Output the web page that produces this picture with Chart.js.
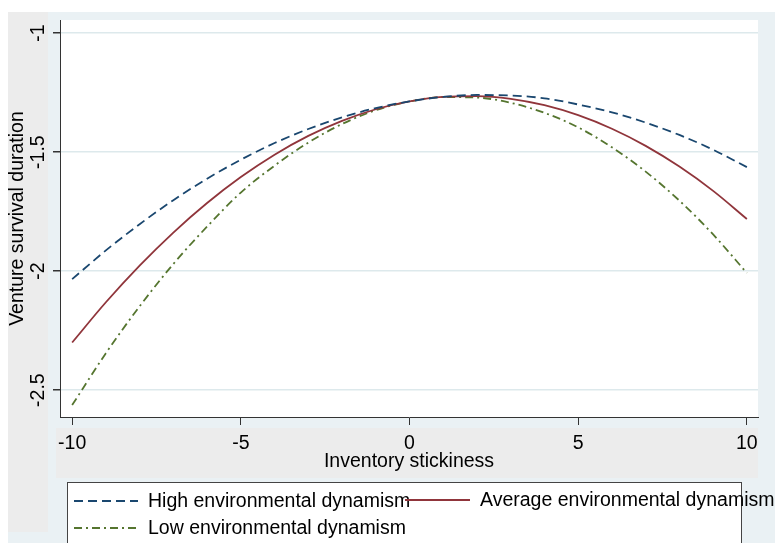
<!DOCTYPE html>
<html>
<head>
<meta charset="utf-8">
<script src="https://cdn.jsdelivr.net/npm/chart.js@4/dist/chart.umd.min.js"></script>
<style>
  body { margin: 0; background: #fff; }
  #box { width: 775px; height: 543px; }
</style>
</head>
<body>
<div id="box"><canvas id="grafico"></canvas></div>
<script>
var estoque = [-10, -9, -8, -7, -6, -5, -4, -3, -2, -1, 0, 1, 2, 3, 4, 5, 6, 7, 8, 9, 10];
var altaDinamica = [-2.034, -1.913, -1.803, -1.702, -1.612, -1.532, -1.462, -1.403, -1.354, -1.315, -1.287,
                    -1.268, -1.260, -1.262, -1.274, -1.300, -1.333, -1.376, -1.428, -1.490, -1.563];
var mediaDinamica = [-2.300, -2.131, -1.977, -1.838, -1.714, -1.605, -1.511, -1.432, -1.369, -1.320, -1.287,
                     -1.268, -1.265, -1.276, -1.303, -1.345, -1.402, -1.474, -1.561, -1.663, -1.781];
var baixaDinamica = [-2.563, -2.345, -2.148, -1.970, -1.813, -1.670, -1.557, -1.460, -1.382, -1.324, -1.287,
                     -1.269, -1.271, -1.293, -1.335, -1.396, -1.480, -1.582, -1.704, -1.846, -2.008];
var nomesSeries = ['High environmental dynamism', 'Average environmental dynamism', 'Low environmental dynamism'];
var ticksX = [-10, -5, 0, 5, 10];
var ticksY = [-1, -1.5, -2, -2.5];

var fonte = '"Liberation Sans", Arial, sans-serif';

function pares(ys) {
    return estoque.map(function (x, i) { return { x: x, y: ys[i] }; });
}

// fundos do grafico (regioes do Stata)
var fundo = {
    id: 'fundo',
    beforeDraw: function (chart) {
        var ctx = chart.ctx;
        var a = chart.chartArea;
        ctx.save();
        ctx.fillStyle = '#eaf1f4';
        ctx.fillRect(0, 0, chart.width, chart.height);
        ctx.fillStyle = '#ffffff';
        ctx.fillRect(0, 0, chart.width, 12);
        ctx.fillRect(0, 0, 8, chart.height);
        ctx.fillStyle = '#ececec';
        ctx.fillRect(8, 12, 40, 520);
        ctx.fillRect(56, 428, a.right - 56, 50);
        ctx.fillStyle = '#ffffff';
        ctx.fillRect(a.left, a.top, a.right - a.left, a.bottom - a.top);
        ctx.restore();
    },
    afterDraw: function (chart) {
        var ctx = chart.ctx;
        var sy = chart.scales.y;
        ctx.save();
        // rotulos do eixo y girados
        ctx.fillStyle = '#000';
        ctx.font = '19.5px ' + fonte;
        ctx.textAlign = 'center';
        ctx.textBaseline = 'middle';
        ticksY.forEach(function (v) {
            ctx.save();
            ctx.translate(39, sy.getPixelForValue(v));
            ctx.rotate(-Math.PI / 2);
            ctx.fillText(String(v), 0, 0);
            ctx.restore();
        });
        // legenda
        ctx.fillStyle = '#fff';
        ctx.fillRect(67, 482, 674, 70);
        ctx.strokeStyle = '#444';
        ctx.lineWidth = 1;
        ctx.strokeRect(67.5, 482.5, 674, 70);
        var pos = [[74, 138, 148, 501], [405, 470, 480, 500], [74, 138, 148, 528]];
        chart.data.datasets.forEach(function (ds, i) {
            var p = pos[i];
            ctx.strokeStyle = ds.borderColor;
            ctx.lineWidth = ds.borderWidth;
            ctx.setLineDash(ds.borderDash || []);
            ctx.beginPath();
            ctx.moveTo(p[0], p[3]);
            ctx.lineTo(p[1], p[3]);
            ctx.stroke();
            ctx.setLineDash([]);
            ctx.fillStyle = '#000';
            ctx.textAlign = 'left';
            ctx.fillText(ds.label, p[2], p[3] + 1);
        });
        ctx.restore();
    }
};

var ctx = document.getElementById('grafico').getContext('2d');
var grafico = new Chart(ctx, {
    type: 'line',
    data: {
        datasets: [{
            label: nomesSeries[0],
            data: pares(altaDinamica),
            borderColor: '#1a476f',
            borderWidth: 1.8,
            borderDash: [9, 5]
        }, {
            label: nomesSeries[1],
            data: pares(mediaDinamica),
            borderColor: '#90353b',
            borderWidth: 1.8
        }, {
            label: nomesSeries[2],
            data: pares(baixaDinamica),
            borderColor: '#55752f',
            borderWidth: 1.8,
            borderDash: [8, 4, 2, 4]
        }]
    },
    options: {
        responsive: true,
        maintainAspectRatio: false,
        animation: false,
        events: [],
        elements: { point: { radius: 0 }, line: { tension: 0.4, cubicInterpolationMode: 'monotone' } },
        layout: { padding: { left: 0, top: 20, right: 17, bottom: 66 } },
        plugins: { legend: { display: false }, tooltip: { enabled: false } },
        scales: {
            x: {
                type: 'linear',
                min: -10.36,
                max: 10.33,
                afterBuildTicks: function (s) { s.ticks = ticksX.map(function (v) { return { value: v }; }); },
                afterFit: function (s) { s.height = 60; },
                border: { color: '#333', width: 1 },
                grid: { drawOnChartArea: false, tickLength: 8, tickColor: '#333' },
                ticks: { color: '#000', font: { family: fonte, size: 19.5 }, padding: 7, maxRotation: 0 },
                title: { display: true, text: 'Inventory stickiness', color: '#000',
                         font: { family: fonte, size: 19.5 }, padding: { top: 0, bottom: 4 } }
            },
            y: {
                min: -2.613,
                max: -0.945,
                afterBuildTicks: function (s) { s.ticks = ticksY.map(function (v) { return { value: v }; }); },
                afterFit: function (s) { s.width = 60; },
                border: { color: '#333', width: 1 },
                grid: { color: '#dde9ec', lineWidth: 1.5, tickLength: 7, tickColor: '#333' },
                ticks: { color: 'rgba(0,0,0,0)', font: { family: fonte, size: 19.5 } },
                title: { display: true, text: 'Venture survival duration', color: '#000',
                         font: { family: fonte, size: 19.5 }, padding: { top: 6, bottom: 0 } }
            }
        }
    },
    plugins: [fundo]
});
</script>
</body>
</html>
